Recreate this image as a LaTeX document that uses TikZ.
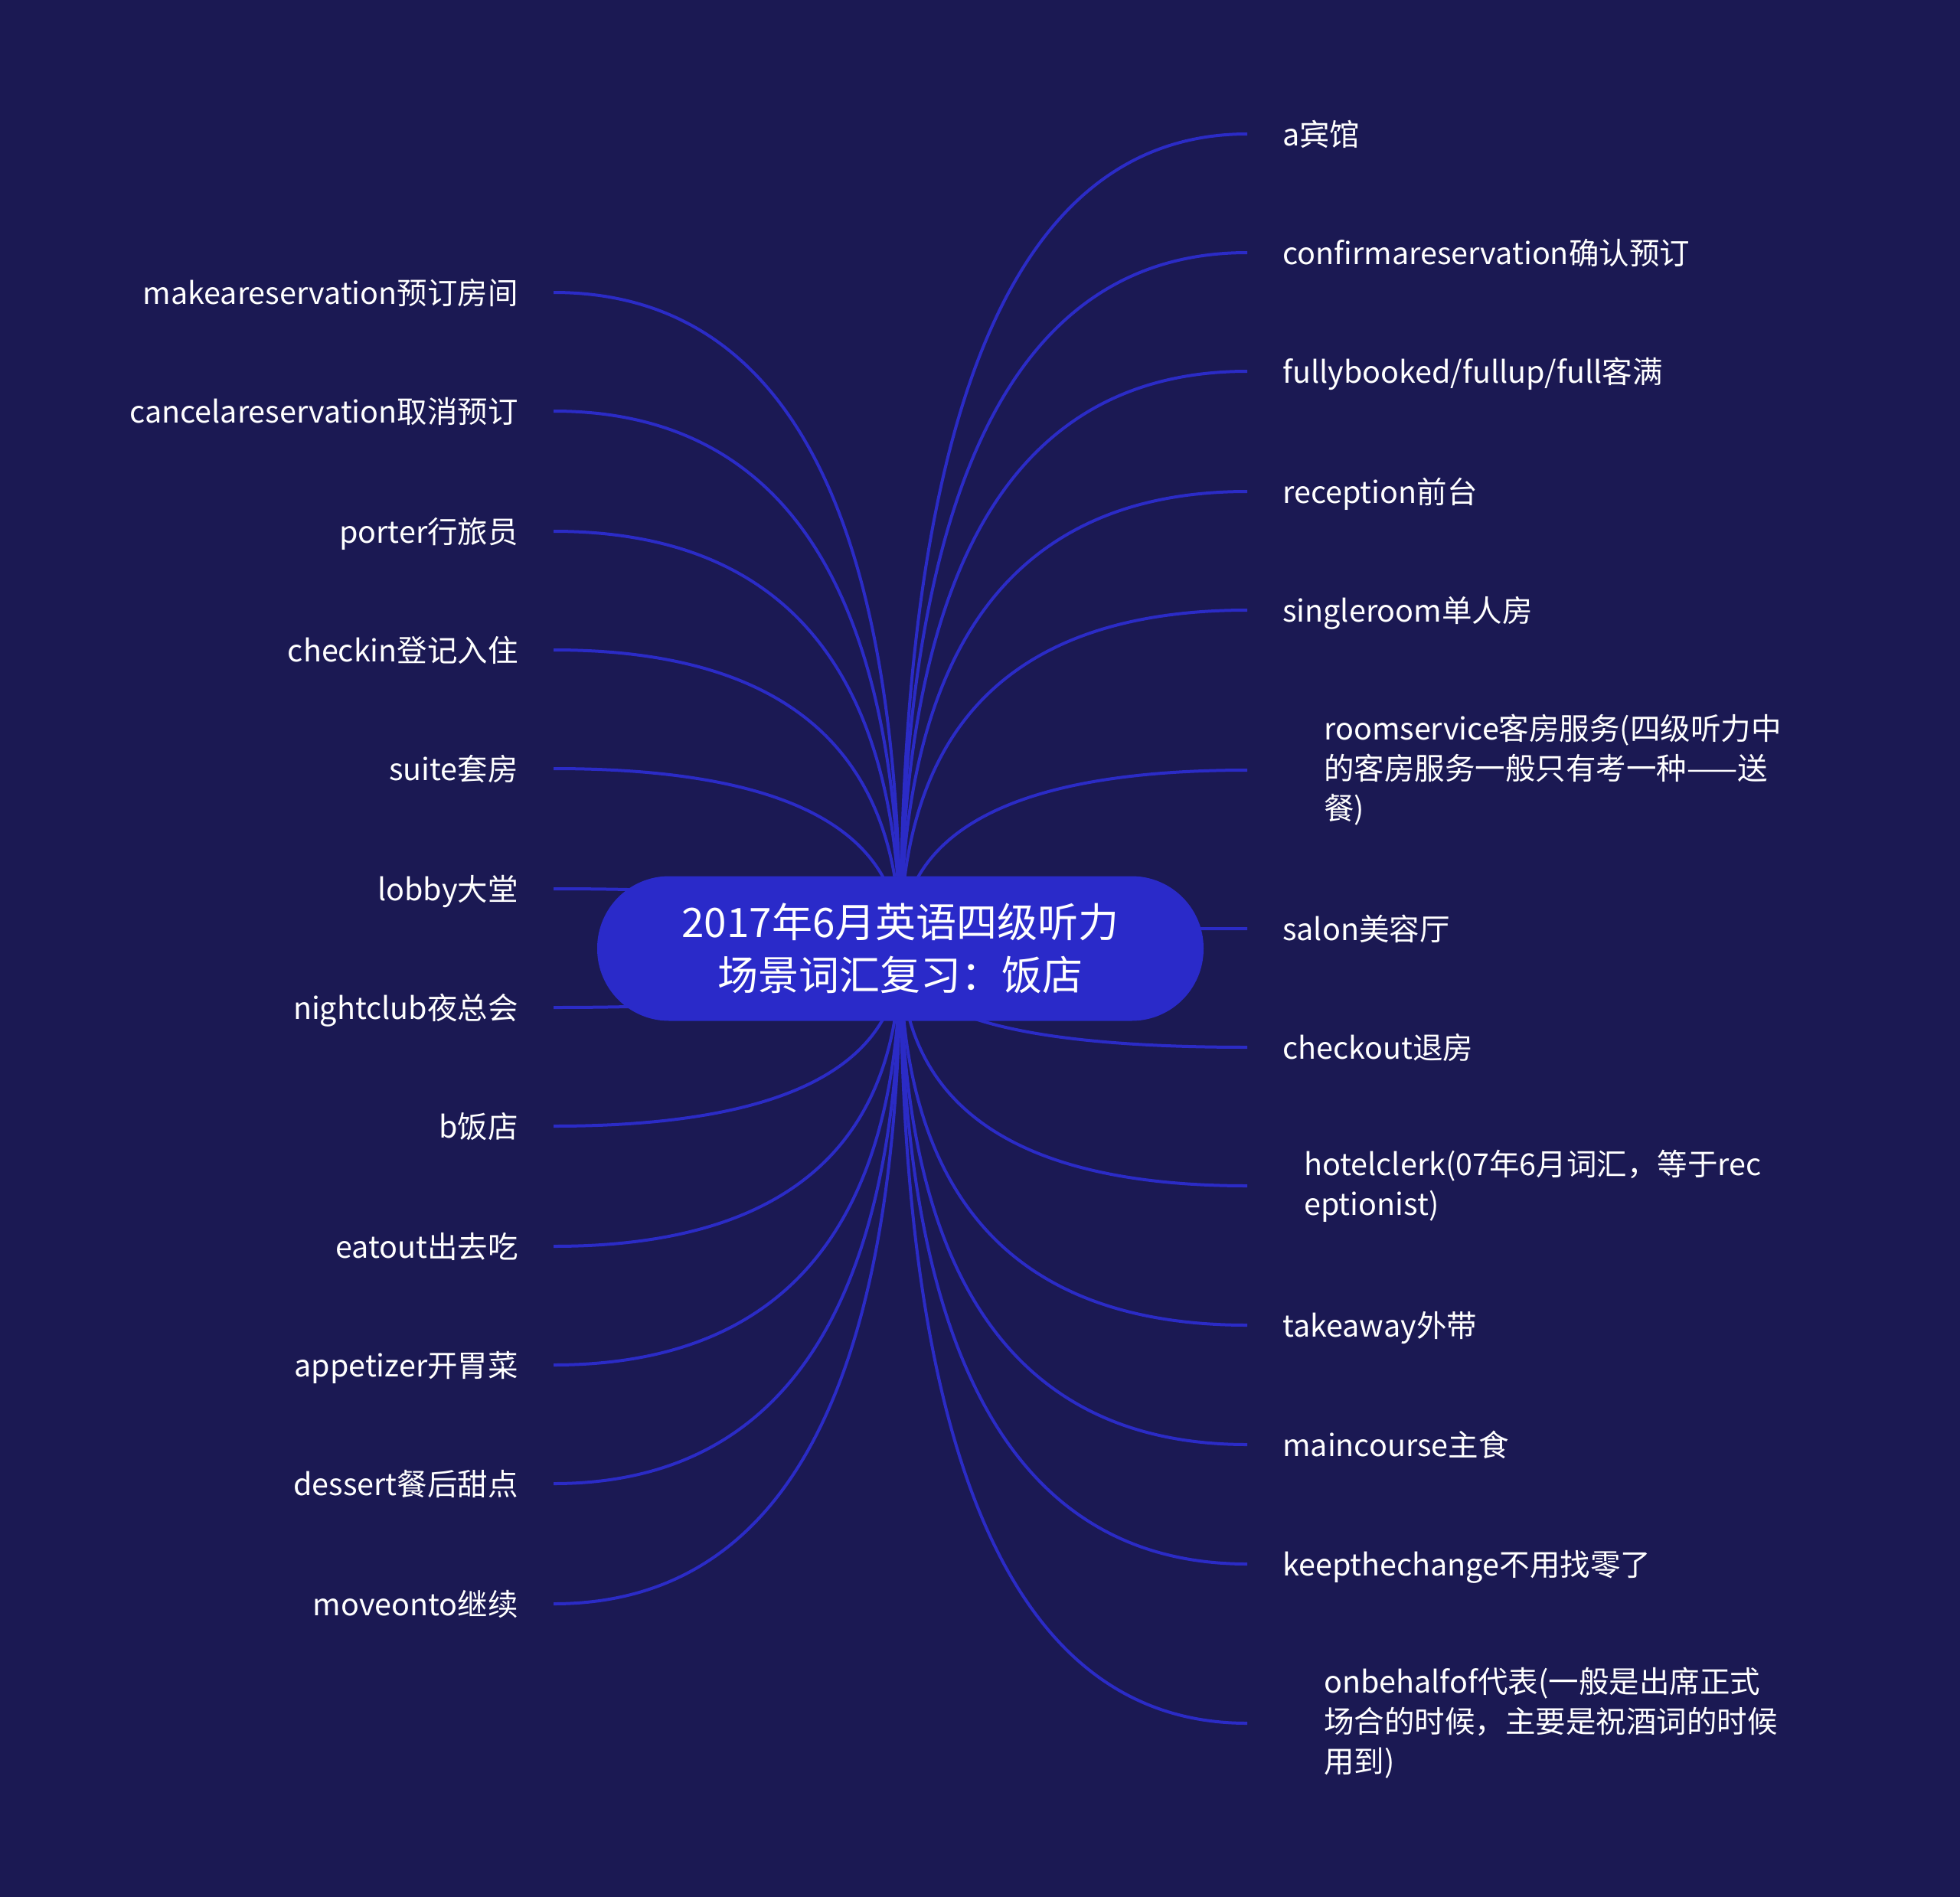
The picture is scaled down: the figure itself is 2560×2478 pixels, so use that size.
\documentclass[tikz,border=0pt]{standalone}
\usepackage{fontspec}
\setmainfont{Noto Sans CJK SC}
\usetikzlibrary{calc}
\definecolor{bgc}{HTML}{1B1953}
\definecolor{nodec}{HTML}{2A2AC9}
\definecolor{linec}{HTML}{2B2BC6}
\pgfdeclarelayer{background}
\pgfdeclarelayer{lines}
\pgfsetlayers{background,lines,main}
\tikzset{
  lbl/.style={text=white, font=\fontsize{39.5}{52}\selectfont, inner ysep=0pt, text height=35pt, text depth=5pt},
  lft/.style={lbl, anchor=east, inner xsep=46pt, align=right},
  rgt/.style={lbl, anchor=west, inner xsep=46pt, align=left},
  multi/.style={text height=, text depth=},
  link/.style={linec, line width=4pt},
  hub/.style={fill=nodec, rounded corners=94pt, minimum width=792pt, minimum height=189pt, text=white, align=center, font=\fontsize{53}{69}\selectfont}
}
\newcommand\conn[1]{\draw[link] (c.center) .. controls ($(c.center)!0.6667!(c.center |- #1)$) and ($(#1)!0.6667!(c.center |- #1)$) .. (#1);}
\begin{document}
\begin{tikzpicture}[x=1pt,y=-1pt]
\begin{pgfonlayer}{background}
\fill[bgc] (0,0) rectangle (2560,2478);
\end{pgfonlayer}
\useasboundingbox (0,0) rectangle (2560,2478);
\node[hub] (c) at (1176,1239) {2017年6月英语四级听力\\场景词汇复习：饭店};
% left
\node[lft] (l1) at (723,382) {makeareservation预订房间};
\node[lft] (l2) at (723,537) {cancelareservation取消预订};
\node[lft] (l3) at (723,694) {porter行旅员};
\node[lft] (l4) at (723,849) {checkin登记入住};
\node[lft] (l5) at (723,1004) {suite套房};
\node[lft] (l6) at (723,1161) {lobby大堂};
\node[lft] (l7) at (723,1316) {nightclub夜总会};
\node[lft] (l8) at (723,1471) {b饭店};
\node[lft] (l9) at (723,1628) {eatout出去吃};
\node[lft] (l10) at (723,1783) {appetizer开胃菜};
\node[lft] (l11) at (723,1938) {dessert餐后甜点};
\node[lft] (l12) at (723,2095) {moveonto继续};
% right
\node[rgt] (r1) at (1629,175) {a宾馆};
\node[rgt] (r2) at (1629,330) {confirmareservation确认预订};
\node[rgt] (r3) at (1629,485) {fullybooked/fullup/full客满};
\node[rgt] (r4) at (1629,642) {reception前台};
\node[rgt] (r5) at (1629,797) {singleroom单人房};
\node[rgt, multi, inner xsep=100pt] (r6) at (1629,1006) {roomservice客房服务(四级听力中\\的客房服务一般只有考一种——送\\餐)};
\node[rgt] (r7) at (1629,1213) {salon美容厅};
\node[rgt] (r8) at (1629,1368) {checkout退房};
\node[rgt, multi, inner xsep=74pt] (r9) at (1629,1549) {hotelclerk(07年6月词汇，等于rec\\eptionist)};
\node[rgt] (r10) at (1629,1731) {takeaway外带};
\node[rgt] (r11) at (1629,1887) {maincourse主食};
\node[rgt] (r12) at (1629,2043) {keepthechange不用找零了};
\node[rgt, multi, inner xsep=100pt] (r13) at (1629,2251) {onbehalfof代表(一般是出席正式\\场合的时候，主要是祝酒词的时候\\用到)};
\begin{pgfonlayer}{lines}
\conn{l1.east}\conn{l2.east}\conn{l3.east}\conn{l4.east}\conn{l5.east}\conn{l6.east}
\conn{l7.east}\conn{l8.east}\conn{l9.east}\conn{l10.east}\conn{l11.east}\conn{l12.east}
\conn{r1.west}\conn{r2.west}\conn{r3.west}\conn{r4.west}\conn{r5.west}\conn{r6.west}\conn{r7.west}
\conn{r8.west}\conn{r9.west}\conn{r10.west}\conn{r11.west}\conn{r12.west}\conn{r13.west}
\end{pgfonlayer}
\end{tikzpicture}
\end{document}
